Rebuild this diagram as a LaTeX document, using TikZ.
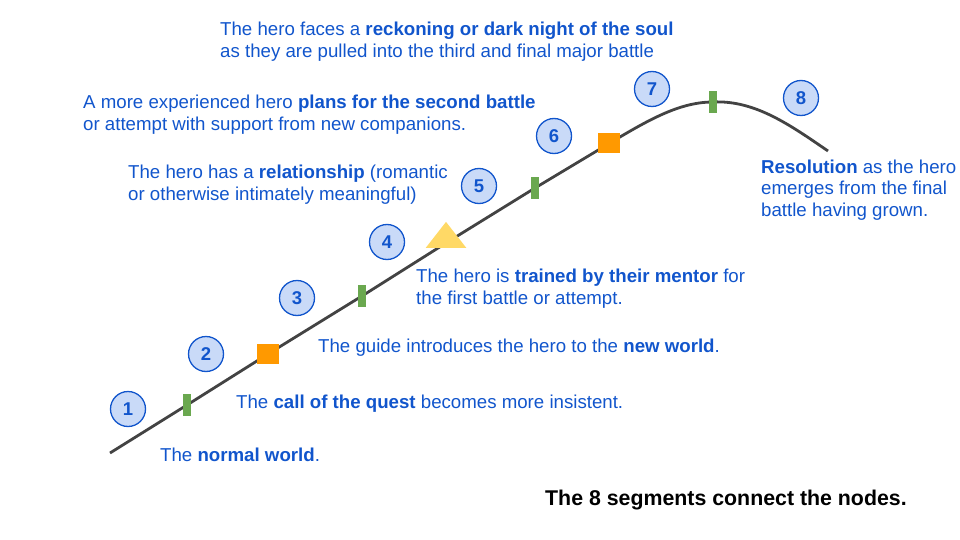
\documentclass[tikz,border=0pt]{standalone}
\usepackage{fontspec}
\setmainfont{Liberation Sans}
\usetikzlibrary{shapes.geometric}
\definecolor{txtblue}{HTML}{1155CC}
\definecolor{circfill}{HTML}{C9DAF8}
\definecolor{curvecol}{HTML}{434343}
\definecolor{barcol}{HTML}{6AA84F}
\definecolor{sqcol}{HTML}{FF9900}
\definecolor{tricol}{HTML}{FFD966}
\tikzset{
  numc/.style={circle, draw=txtblue, fill=circfill, line width=1.3pt, minimum size=35pt, inner sep=0pt, text=txtblue, font=\fontsize{18.5}{21}\selectfont\bfseries},
  lbl/.style={anchor=west, align=left, inner sep=0pt, text=txtblue, font=\fontsize{18.67}{21.8}\selectfont},
  barmark/.style={rectangle, fill=barcol, minimum width=8pt, minimum height=22pt, inner sep=0pt},
  sqmark/.style={rectangle, fill=sqcol, minimum width=22pt, minimum height=20pt, inner sep=0pt},
  trimark/.style={isosceles triangle, isosceles triangle apex angle=76, shape border rotate=90, fill=tricol, minimum height=26pt, minimum width=32pt, inner sep=0pt},
  curveline/.style={draw=curvecol, line width=2.8pt},
}
\begin{document}
\begin{tikzpicture}[x=1pt, y=-1pt]
\useasboundingbox (0,0) rectangle (960,540);
% coordinates along the curve
\coordinate (s) at (110,453);
\coordinate (p1) at (187,405);
\coordinate (p2) at (268,354);
\coordinate (p3) at (362,296);
\coordinate (p4) at (446,243);
\coordinate (p5) at (535,188);
\coordinate (p6) at (609,143);
\coordinate (p7) at (713,102);
\coordinate (e) at (828,151);
\draw[curveline] (s) -- (p1) -- (p2) -- (p3) -- (p4) -- (p5) -- (590,155)
  .. controls (640,125) and (675,102) .. (p7)
  .. controls (755,100) and (790,125) .. (e);
% markers
\node[barmark] (m1) at (p1) {};
\node[sqmark] (m2) at (p2) {};
\node[barmark] (m3) at (p3) {};
\node[trimark] (m4) at (446,238) {};
\node[barmark] (m5) at (p5) {};
\node[sqmark] (m6) at (p6) {};
\node[barmark] (m7) at (p7) {};
% number circles
\node[numc] (c1) at (128,409) {1};
\node[numc] (c2) at (206,354) {2};
\node[numc] (c3) at (297,298) {3};
\node[numc] (c4) at (387,242) {4};
\node[numc] (c5) at (479,186) {5};
\node[numc] (c6) at (554,136) {6};
\node[numc] (c7) at (652,89) {7};
\node[numc] (c8) at (801,98) {8};
% labels
\node[lbl] (t7) at (220,42) {The hero faces a \textbf{reckoning or dark night of the soul}\\as they are pulled into the third and final major battle};
\node[lbl] (t6) at (83,115) {A more experienced hero \textbf{plans for the second battle}\\or attempt with support from new companions.};
\node[lbl] (t5) at (128,185) {The hero has a \textbf{relationship} (romantic\\or otherwise intimately meaningful)};
\node[lbl] (t4) at (416,289) {The hero is \textbf{trained by their mentor} for\\the first battle or attempt.};
\node[lbl] (t3) at (318,348) {The guide introduces the hero to the \textbf{new world}.};
\node[lbl] (t2) at (236,404) {The \textbf{call of the quest} becomes more insistent.};
\node[lbl] (t1) at (160,455) {The \textbf{normal world}.};
\node[lbl] (t8) at (761,190) {\textbf{Resolution} as the hero\\emerges from the final\\battle having grown.};
\node[lbl, text=black, font=\fontsize{21.33}{25}\selectfont\bfseries] (cap) at (545,500) {The 8 segments connect the nodes.};
\end{tikzpicture}
\end{document}
